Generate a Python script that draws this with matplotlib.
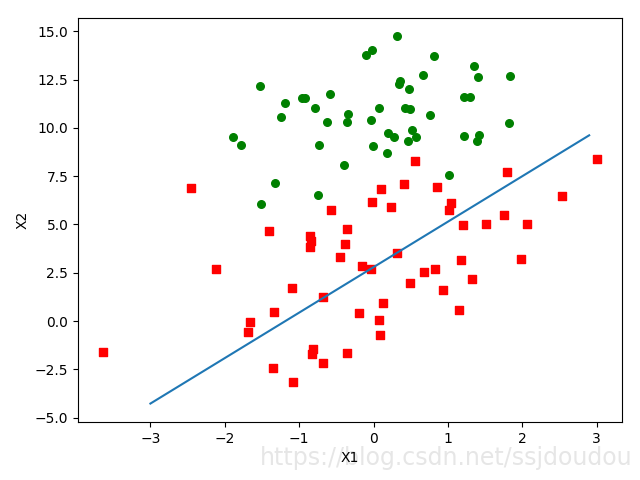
import numpy as np
import matplotlib.pyplot as plt

# class 1 (red squares)
x1_pos = [-1.40, 0.41, -2.46, 0.85, 1.18, -0.57, 0.93, -0.02, -0.04, -0.20,
          1.01, 1.99, -1.69, -0.35, -2.12, -3.64, 0.32, -0.39, 0.56, -1.35,
          1.20, -0.45, 1.04, 1.15, 0.83, -0.68, 0.23, 1.51, 0.10, 1.79,
          -0.36, -0.84, 0.49, -0.81, 2.53, -1.34, -0.15, -1.66, 1.32, 2.06,
          -0.85, -1.08, 3.01, -1.10, -0.83, -0.85, 1.75, 0.08, 0.09, 0.13,
          -0.68, 0.68]
x2_pos = [4.66, 7.07, 6.87, 6.92, 3.17, 5.75, 1.59, 6.15, 2.69, 0.44,
          5.75, 3.23, -0.56, -1.68, 2.67, -1.62, 3.52, 3.99, 8.29, -2.41,
          4.95, 3.30, 6.11, 0.55, 2.68, -2.17, 5.92, 5.03, 6.84, 7.72,
          4.75, 4.12, 1.96, -1.47, 6.48, 0.47, 2.87, -0.03, 2.17, 5.02,
          4.38, -3.18, 8.40, 1.69, -1.73, 3.85, 5.47, 0.06, -0.72, 0.92,
          1.22, 2.56]

# class 0 (green circles)
x1_neg = [-0.02, -0.75, -1.32, 0.42, 0.67, 0.57, -0.03, 1.35, -1.78, -0.58,
          1.22, -0.73, 1.42, 1.22, 0.28, 0.47, -1.89, -1.53, -1.19, -0.62,
          -1.24, -0.96, 0.49, 0.18, -0.36, -0.40, 0.82, -0.34, -0.92, -0.01,
          0.36, 0.34, 1.30, 0.48, -0.78, 0.07, -0.10, 0.52, 1.02, -1.51,
          1.82, 1.40, 1.83, 0.20, 0.76, 1.39, 0.32]
x2_neg = [14.05, 6.54, 7.15, 11.05, 12.74, 9.55, 10.43, 13.18, 9.10, 11.78,
          9.60, 9.10, 9.62, 11.59, 9.54, 9.33, 9.54, 12.15, 11.31, 10.32,
          10.55, 11.56, 10.99, 8.72, 10.33, 8.06, 13.73, 10.72, 11.56, 9.08,
          12.45, 12.28, 11.61, 12.04, 11.01, 11.02, 13.76, 9.89, 7.57, 6.06,
          10.28, 12.63, 12.69, 9.74, 10.69, 9.34, 14.74]

# decision boundary weights: y = w0 + w1 * x
weights = [2.79, 2.354]

fig = plt.figure(figsize=(6.4, 4.8), dpi=100)
ax = fig.add_subplot(111)
ax.scatter(x1_pos, x2_pos, s=30, c='red', marker='s')
ax.scatter(x1_neg, x2_neg, s=30, c='green')

x = np.arange(-3.0, 3.0, 0.1)
y = weights[0] + weights[1] * x
ax.plot(x, y)

ax.set_xlabel('X1')
ax.set_ylabel('X2')
fig.subplots_adjust(left=0.122, right=0.972, top=0.9625, bottom=0.121)

# faint watermark sits behind the axes labels
fig.text(0.697, 0.046, 'https://blog.csdn.net/ssjdoudou', fontsize=17,
         color='#e6e6e6', ha='center', va='center', zorder=-1)

fig.savefig('out.png')
